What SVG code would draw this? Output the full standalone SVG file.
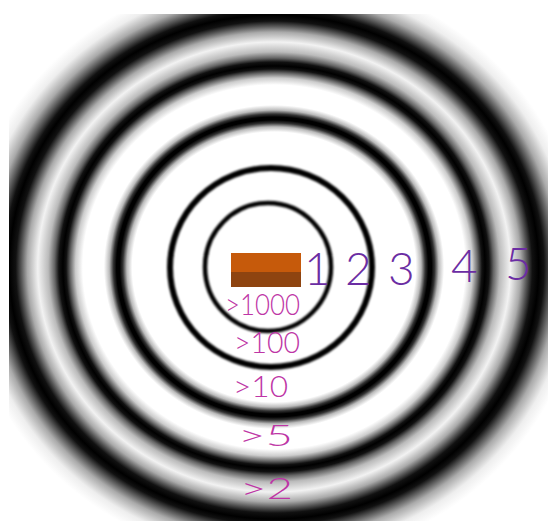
<svg xmlns="http://www.w3.org/2000/svg" width="548" height="521" viewBox="0 0 548 521">
<defs>
<radialGradient id="rings" gradientUnits="userSpaceOnUse" cx="274" cy="267" r="300" gradientTransform="translate(274 267) scale(1.05 1) translate(-274 -267)">
<stop offset="0" stop-color="#fff"/>
<stop offset="0.450" stop-color="#fff"/>
<stop offset="0.467" stop-color="#bbb"/>
<stop offset="0.480" stop-color="#333"/>
<stop offset="0.490" stop-color="#000"/>
<stop offset="0.500" stop-color="#000"/>
<stop offset="0.510" stop-color="#333"/>
<stop offset="0.523" stop-color="#bbb"/>
<stop offset="0.540" stop-color="#fff"/>
<stop offset="0.607" stop-color="#fff"/>
<stop offset="0.630" stop-color="#ccc"/>
<stop offset="0.647" stop-color="#666"/>
<stop offset="0.660" stop-color="#111"/>
<stop offset="0.670" stop-color="#000"/>
<stop offset="0.683" stop-color="#111"/>
<stop offset="0.697" stop-color="#666"/>
<stop offset="0.717" stop-color="#bbb"/>
<stop offset="0.750" stop-color="#f2f2f2"/>
<stop offset="0.783" stop-color="#aaa"/>
<stop offset="0.803" stop-color="#555"/>
<stop offset="0.820" stop-color="#111"/>
<stop offset="0.840" stop-color="#000"/>
<stop offset="0.857" stop-color="#111"/>
<stop offset="0.877" stop-color="#555"/>
<stop offset="0.903" stop-color="#aaa"/>
<stop offset="0.943" stop-color="#eee"/>
<stop offset="0.980" stop-color="#fff"/>
<stop offset="1" stop-color="#fff"/>
</radialGradient>
<filter id="soft1" x="-10%" y="-10%" width="120%" height="120%"><feGaussianBlur stdDeviation="0.9"/></filter>
<filter id="soft2" x="-10%" y="-10%" width="120%" height="120%"><feGaussianBlur stdDeviation="1.3"/></filter>
<style>
.ring{fill:none;stroke:#000}
.num{font-family:Lato,"Liberation Sans",sans-serif;font-weight:300;font-size:46px;fill:#6B2DA3}
.lbl{font-family:Lato,"Liberation Sans",sans-serif;font-weight:300;font-size:29px;fill:#BE36A6}
</style>
</defs>
<rect width="548" height="521" fill="#fff"/>
<g id="target">
<rect x="9" y="14" width="539" height="507" fill="url(#rings)"/>
<ellipse class="ring" cx="268" cy="267" rx="63" ry="64" stroke-width="4.5" filter="url(#soft1)"/>
<ellipse class="ring" cx="271" cy="267.5" rx="101" ry="99.5" stroke-width="6" filter="url(#soft2)"/>
</g>
<g id="source">
<rect x="231" y="253" width="70" height="19" fill="#C65A0B"/>
<rect x="231" y="272" width="70" height="15" fill="#8E4410"/>
</g>
<g id="ring-numbers">
<text class="num" x="304" y="285">1</text>
<text class="num" x="345" y="285">2</text>
<text class="num" x="388" y="285">3</text>
<text class="num" x="451" y="282">4</text>
<text class="num" x="505" y="280">5</text>
</g>
<g id="ring-labels">
<text class="lbl" x="225" y="315" textLength="75" lengthAdjust="spacingAndGlyphs">&gt;1000</text>
<text class="lbl" x="234" y="353" textLength="66" lengthAdjust="spacingAndGlyphs">&gt;100</text>
<text class="lbl" x="233" y="397" textLength="55" lengthAdjust="spacingAndGlyphs">&gt;10</text>
<text class="lbl" x="238" y="446" textLength="55" lengthAdjust="spacingAndGlyphs">&gt;5</text>
<text class="lbl" x="240" y="499" textLength="53" lengthAdjust="spacingAndGlyphs">&gt;2</text>
</g>
</svg>
